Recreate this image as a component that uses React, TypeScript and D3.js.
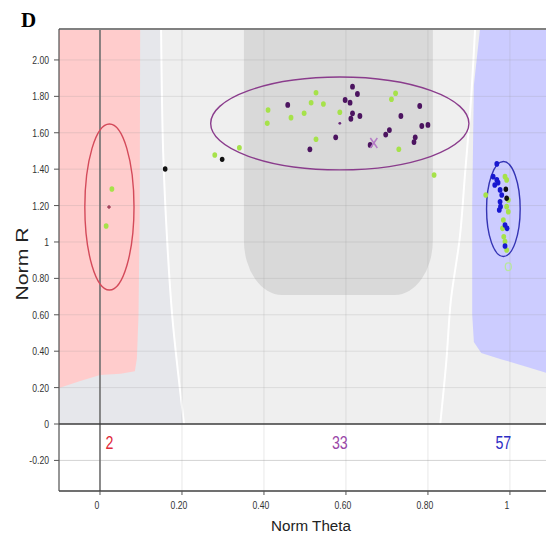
import React from 'react';
import * as d3 from 'd3';

// ---- data ----
const xTicks = [0, 0.2, 0.4, 0.6, 0.8, 1];
const xTickLabels = ['0', '0.20', '0.40', '0.60', '0.80', '1'];
const yTicks = [-0.2, 0, 0.2, 0.4, 0.6, 0.8, 1, 1.2, 1.4, 1.6, 1.8, 2.0];
const yTickLabels = ['-0.20', '0', '0.20', '0.40', '0.60', '0.80', '1', '1.20', '1.40', '1.60', '1.80', '2.00'];

// cluster ellipses: [cx, cy, rx, ry]
const clusterNames = ['2', '33', '57'];
const clusterEllipses: [number, number, number, number][] = [
  [0.023, 1.192, 0.06, 0.456],
  [0.585, 1.651, 0.315, 0.255],
  [0.984, 1.181, 0.041, 0.261],
];

const greenPoints: [number, number][] = [
  [0.029, 1.291], [0.015, 1.088],
  [0.280, 1.478], [0.340, 1.518], [0.410, 1.725], [0.408, 1.652], [0.466, 1.683],
  [0.498, 1.707], [0.515, 1.765], [0.527, 1.820], [0.545, 1.758], [0.527, 1.564],
  [0.585, 1.713], [0.711, 1.784], [0.721, 1.817], [0.729, 1.509], [0.815, 1.368],
  [0.992, 1.341], [0.988, 1.359], [0.996, 1.231], [0.992, 1.194], [0.996, 1.166],
  [0.984, 1.121], [0.982, 1.075], [0.985, 1.029], [0.988, 1.002], [0.992, 0.956],
  [0.941, 1.258],
];
const purplePoints: [number, number][] = [
  [0.458, 1.753], [0.616, 1.853], [0.628, 1.813], [0.598, 1.780], [0.610, 1.765],
  [0.616, 1.707], [0.612, 1.677], [0.634, 1.692], [0.575, 1.575], [0.512, 1.509],
  [0.659, 1.533], [0.706, 1.615], [0.697, 1.590], [0.734, 1.692], [0.780, 1.747],
  [0.785, 1.637], [0.800, 1.643], [0.769, 1.575], [0.766, 1.549],
];
const purpleSmall: [number, number][] = [[0.585, 1.652]];
const blackPoints: [number, number][] = [
  [0.159, 1.401], [0.298, 1.454], [0.990, 1.290], [0.992, 1.240],
];
const bluePoints: [number, number][] = [
  [0.968, 1.429], [0.959, 1.359], [0.968, 1.341], [0.963, 1.313], [0.971, 1.326],
  [0.976, 1.286], [0.980, 1.258], [0.976, 1.221], [0.974, 1.176], [0.977, 1.194],
  [0.988, 1.093], [0.993, 1.075], [0.988, 0.978],
];
// centroid markers
const centroidPlus: [number, number] = [0.022, 1.192];
const centroidX: [number, number] = [0.668, 1.544];
const centroidO: [number, number] = [0.996, 0.864];

// background regions (data space)
const pinkRegion: [number, number][] = [
  [-0.1, 2.17], [0.098, 2.17], [0.097, 1.2], [0.094, 0.6], [0.09, 0.36], [0.085, 0.29],
  [0.05, 0.276], [0.0, 0.269], [-0.05, 0.235], [-0.1, 0.198],
];
const blueRegion: [number, number][] = [
  [0.927, 2.17], [0.912, 1.86], [0.908, 1.2], [0.908, 0.6], [0.912, 0.45], [0.93, 0.39],
  [0.98, 0.355], [1.04, 0.315], [1.09, 0.28], [1.09, 2.17],
];
const leftCurve: [number, number][] = [
  [0.149, 2.17], [0.154, 1.5], [0.164, 1.0], [0.176, 0.6], [0.190, 0.29], [0.205, 0],
];
const rightCurve: [number, number][] = [
  [0.915, 2.17], [0.905, 1.78], [0.890, 1.36], [0.878, 1.03], [0.856, 0.68], [0.845, 0.35], [0.83, 0],
];
const darkBox = { x0: 0.351, x1: 0.812, yBottom: 0.709 };

const W = 546, H = 539;
const left = 59, right = 546, top = 29, bottom = 491;

export default function App() {
  const x = d3.scaleLinear().domain([-0.1, 1.088]).range([left, right]);
  const y = d3.scaleLinear().domain([-0.368, 2.17]).range([bottom, top]);
  const line = d3.line<[number, number]>().x(d => x(d[0])).y(d => y(d[1]));
  const curve = d3.line<[number, number]>().x(d => x(d[0])).y(d => y(d[1])).curve(d3.curveCatmullRom);

  const y0 = y(0);
  // left region (left of left white curve)
  const leftRegion: [number, number][] = [[-0.1, 2.17], ...leftCurve, [-0.1, 0]];

  const bx0 = x(darkBox.x0), bx1 = x(darkBox.x1), by = y(darkBox.yBottom);
  const rrx = 38, rry = 55;
  const darkPath = `M${bx0},${top} L${bx1},${top} L${bx1},${by - rry} A${rrx},${rry} 0 0 1 ${bx1 - rrx},${by} L${bx0 + rrx},${by} A${rrx},${rry} 0 0 1 ${bx0},${by - rry} Z`;

  const ellColors = ['#d44a5a', '#8a3c8c', '#3434b4'];
  const labelColors = ['#e02a3a', '#9a48a8', '#2c2cc4'];

  const tickFont = '"Liberation Sans", Arial, sans-serif';

  return (
    <svg width={W} height={H} style={{ position: 'absolute', left: 0, top: 0, background: '#fff' }}>
      <defs>
        <clipPath id="plot">
          <rect x={left} y={top} width={right - left} height={bottom - top} />
        </clipPath>
        <clipPath id="upper">
          <rect x={left} y={top} width={right - left} height={y0 - top} />
        </clipPath>
      </defs>

      {/* D label */}
      <text x={21} y={27} fontFamily='"Liberation Serif", "Times New Roman", serif' fontWeight="bold" fontSize={21}>D</text>

      {/* upper background */}
      <g clipPath="url(#upper)">
        <rect x={left} y={top} width={right - left} height={y0 - top} fill="#efefef" />
        <path d={line(leftRegion) || ''} fill="#e6e7eb" />
        <path d={darkPath} fill="#d9d9d9" />
        <path d={line(pinkRegion) || ''} fill="#ffcccc" />
        <path d={line(blueRegion) || ''} fill="#ccccff" />
        <path d={curve(leftCurve) || ''} fill="none" stroke="#ffffff" strokeWidth={2} />
        <path d={curve(rightCurve) || ''} fill="none" stroke="#ffffff" strokeWidth={2} />
      </g>

      {/* grid */}
      <g clipPath="url(#plot)">
        {yTicks.filter(t => t !== 0).map(t => (
          <line key={'gy' + t} x1={left} x2={right} y1={y(t)} y2={y(t)}
            stroke={t < 0 ? '#d4d4d4' : 'rgba(150,150,150,0.22)'} strokeWidth={1} />
        ))}
        {xTicks.filter(t => t !== 0).map(t => (
          <line key={'gx' + t} x1={x(t)} x2={x(t)} y1={top} y2={bottom}
            stroke="rgba(150,150,150,0.22)" strokeWidth={1} />
        ))}
      </g>

      {/* x=0 line */}
      <line x1={x(0)} x2={x(0)} y1={top} y2={bottom} stroke="#6e6e6e" strokeWidth={1.6} />
      {/* y=0 line */}
      <line x1={left} x2={right} y1={y0} y2={y0} stroke="#3c3c3c" strokeWidth={1.6} />

      {/* frame */}
      <line x1={left} x2={right} y1={top} y2={top} stroke="#808080" strokeWidth={2} />
      <line x1={left} x2={right} y1={bottom} y2={bottom} stroke="#404040" strokeWidth={1.6} />
      <line x1={left} x2={left} y1={top} y2={bottom} stroke="#505050" strokeWidth={1.2} />

      {/* ellipses */}
      {clusterEllipses.map((e, i) => (
        <ellipse key={'e' + i} cx={x(e[0])} cy={y(e[1])}
          rx={x(e[0] + e[2]) - x(e[0])} ry={y(e[1]) - y(e[1] + e[3])}
          fill="none" stroke={ellColors[i]} strokeWidth={1.4} />
      ))}

      {/* points */}
      {greenPoints.map((p, i) => (
        <ellipse key={'g' + i} cx={x(p[0])} cy={y(p[1])} rx={2.4} ry={2.8} fill="#a6e24a" />
      ))}
      {purplePoints.map((p, i) => (
        <ellipse key={'p' + i} cx={x(p[0])} cy={y(p[1])} rx={2.4} ry={2.9} fill="#4c1460" />
      ))}
      {purpleSmall.map((p, i) => (
        <circle key={'ps' + i} cx={x(p[0])} cy={y(p[1])} r={1.4} fill="#6a2a7a" />
      ))}
      {bluePoints.map((p, i) => (
        <ellipse key={'b' + i} cx={x(p[0])} cy={y(p[1])} rx={2.4} ry={2.8} fill="#1818d0" />
      ))}
      {blackPoints.map((p, i) => (
        <ellipse key={'k' + i} cx={x(p[0])} cy={y(p[1])} rx={2.3} ry={2.7} fill="#111111" />
      ))}

      {/* centroid markers */}
      <g stroke="#8a1a3a" strokeWidth={1}>
        <line x1={x(centroidPlus[0]) - 2} x2={x(centroidPlus[0]) + 2} y1={y(centroidPlus[1])} y2={y(centroidPlus[1])} />
        <line x1={x(centroidPlus[0])} x2={x(centroidPlus[0])} y1={y(centroidPlus[1]) - 2} y2={y(centroidPlus[1]) + 2} />
      </g>
      <g stroke="#b57ac6" strokeWidth={1.5}>
        <line x1={x(centroidX[0]) - 3.5} x2={x(centroidX[0]) + 3.5} y1={y(centroidX[1]) - 5} y2={y(centroidX[1]) + 5} />
        <line x1={x(centroidX[0]) + 3.5} x2={x(centroidX[0]) - 3.5} y1={y(centroidX[1]) - 5} y2={y(centroidX[1]) + 5} />
      </g>
      <ellipse cx={x(centroidO[0])} cy={y(centroidO[1])} rx={3} ry={3.8} fill="none" stroke="#b8e6a0" strokeWidth={1.3} />

      {/* cluster count labels */}
      {clusterEllipses.map((e, i) => (
        <text key={'cl' + i} transform={`translate(${x(e[0])},${y(-0.14)}) scale(0.75,1)`}
          textAnchor="middle" fontFamily={tickFont} fontSize={19} fill={labelColors[i]}>{clusterNames[i]}</text>
      ))}

      {/* y ticks */}
      {yTicks.map((t, i) => (
        <g key={'yt' + t}>
          <line x1={left - 5} x2={left} y1={y(t)} y2={y(t)} stroke="#555" strokeWidth={1} />
          <text transform={`translate(49,${y(t) + 4}) scale(0.75,1)`} textAnchor="end"
            fontFamily={tickFont} fontSize={11.5} fill="#333">{yTickLabels[i]}</text>
        </g>
      ))}
      {/* x ticks */}
      {xTicks.map((t, i) => (
        <g key={'xt' + t}>
          <line x1={x(t)} x2={x(t)} y1={bottom} y2={bottom + 4} stroke="#555" strokeWidth={1} />
          <text transform={`translate(${x(t) - 3},${bottom + 18}) scale(0.75,1)`} textAnchor="middle"
            fontFamily={tickFont} fontSize={11.5} fill="#333">{xTickLabels[i]}</text>
        </g>
      ))}

      {/* axis titles */}
      <text x={311} y={531} textAnchor="middle" fontFamily={tickFont} fontSize={15.5}
        textLength={80} lengthAdjust="spacingAndGlyphs" fill="#222">Norm Theta</text>
      <text transform={`translate(28,264) rotate(-90)`} textAnchor="middle" fontFamily={tickFont}
        fontSize={17} textLength={73} lengthAdjust="spacingAndGlyphs" fill="#222">Norm R</text>
    </svg>
  );
}
